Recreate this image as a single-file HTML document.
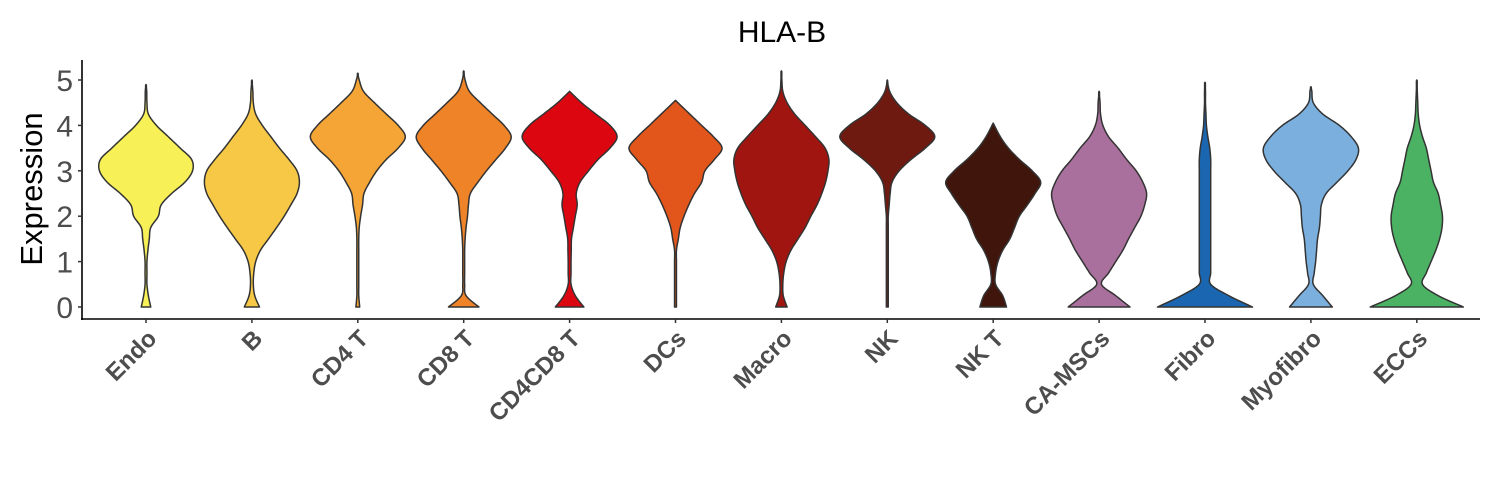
<!DOCTYPE html>
<html><head><meta charset="utf-8"><style>
body{margin:0;background:#fff}
svg{display:block;font-family:"Liberation Sans",Arial,sans-serif}
</style></head><body>
<svg id="chart" width="1500" height="500" viewBox="0 0 1500 500">
<text x="782" y="42" font-size="30" text-anchor="middle" fill="#000">HLA-B</text>
<text transform="translate(42,189) rotate(-90)" font-size="31" text-anchor="middle" fill="#000">Expression</text>
<g id="violins"></g>
<g id="yaxis"></g>
<g id="xaxis"></g>
</svg>
<script>
const categories=["Endo","B","CD4 T","CD8 T","CD4CD8 T","DCs","Macro","NK","NK T","CA-MSCs","Fibro","Myofibro","ECCs"];
const colors=["#f7f057","#f6c845","#f4a535","#ee8327","#dc0610","#e2561b","#a01510","#6e1a10","#40160c","#a9709d","#1b66b0","#7aafde","#4cb263"];
const maxValues=[4.9,5.0,5.15,5.2,4.75,4.55,5.2,5.0,4.05,4.75,4.95,4.85,5.0];
const gridStep=0.25;
const yTicks=[0,1,2,3,4,5];
// relative half-widths at y = 0, 0.25, 0.5, ...
const dens0=[0.1,0.05,0.02,0.02,0.02,0.04,0.07,0.1,0.26,0.32,0.54,0.82,0.98,0.96,0.72,0.47,0.22,0.05,0.02,0.015];
const dens1=[0.16,0.06,0.03,0.04,0.08,0.18,0.35,0.52,0.68,0.82,0.95,1.0,0.95,0.78,0.58,0.4,0.22,0.08,0.03,0.02];
const dens2=[0.04,0.02,0.02,0.02,0.02,0.02,0.02,0.03,0.06,0.1,0.13,0.25,0.4,0.6,0.85,1.0,0.85,0.6,0.35,0.12,0.03];
const dens3=[0.32,0.05,0.02,0.02,0.02,0.02,0.03,0.05,0.08,0.1,0.14,0.3,0.48,0.68,0.88,1.0,0.85,0.6,0.35,0.12,0.03];
const dens4=[0.3,0.12,0.03,0.03,0.03,0.035,0.04,0.08,0.12,0.16,0.14,0.22,0.4,0.6,0.85,1.0,0.85,0.55,0.25];
const dens5=[0.02,0.02,0.02,0.02,0.02,0.02,0.06,0.1,0.18,0.28,0.4,0.55,0.62,0.82,0.98,0.8,0.55,0.3,0.05];
const dens6=[0.12,0.04,0.03,0.05,0.1,0.2,0.35,0.5,0.62,0.75,0.85,0.93,0.98,1.0,0.92,0.72,0.5,0.28,0.12,0.03,0.01];
const dens7=[0.02,0.02,0.02,0.02,0.02,0.02,0.02,0.02,0.02,0.04,0.06,0.1,0.25,0.5,0.8,1.0,0.8,0.45,0.2,0.05];
const dens8=[0.28,0.2,0.05,0.05,0.1,0.2,0.35,0.45,0.55,0.72,0.88,1.0,0.82,0.55,0.32,0.15];
const dens9=[0.65,0.35,0.05,0.2,0.35,0.5,0.62,0.75,0.88,0.96,1.0,0.92,0.78,0.58,0.4,0.2,0.08,0.03,0.02];
const dens10=[1.0,0.5,0.12,0.12,0.12,0.12,0.12,0.12,0.12,0.12,0.12,0.12,0.12,0.12,0.1,0.06,0.03,0.02,0.01,0.01];
const dens11=[0.45,0.25,0.05,0.07,0.1,0.12,0.14,0.18,0.2,0.22,0.32,0.55,0.78,0.95,1.0,0.85,0.6,0.25,0.05,0.02];
const dens12=[0.98,0.45,0.12,0.2,0.3,0.4,0.48,0.53,0.54,0.5,0.45,0.35,0.3,0.25,0.2,0.12,0.06,0.03,0.02,0.01];
const densities=[dens0,dens1,dens2,dens3,dens4,dens5,dens6,dens7,dens8,dens9,dens10,dens11,dens12];

const NS="http://www.w3.org/2000/svg";
const x0=146, dx=105.9, halfMax=47.5;
const xScale=i=>x0+i*dx;
const yScale=v=>307-v*45.4;

const ya=document.getElementById('yaxis');
const yl=document.createElementNS(NS,'line');
yl.setAttribute('x1',82);yl.setAttribute('x2',82);yl.setAttribute('y1',60);yl.setAttribute('y2',320);
yl.setAttribute('stroke','#000');yl.setAttribute('stroke-width','1.6');


ya.appendChild(yl);
yTicks.forEach(t=>{
  const tk=document.createElementNS(NS,'line');
  tk.setAttribute('x1',78);tk.setAttribute('x2',82);tk.setAttribute('y1',yScale(t));tk.setAttribute('y2',yScale(t));
  tk.setAttribute('stroke','#333');tk.setAttribute('stroke-width','1.5');
  
  
  ya.appendChild(tk);
  const tx=document.createElementNS(NS,'text');
  tx.setAttribute('x',73);tx.setAttribute('y',yScale(t)+11);tx.setAttribute('text-anchor','end');
  tx.setAttribute('font-size','30');tx.setAttribute('fill','#4d4d4d');
  tx.textContent=t;
  
  
  ya.appendChild(tx);
});
const xa=document.getElementById('xaxis');
const xl=document.createElementNS(NS,'line');
xl.setAttribute('x1',81);xl.setAttribute('x2',1480);xl.setAttribute('y1',319);xl.setAttribute('y2',319);
xl.setAttribute('stroke','#000');xl.setAttribute('stroke-width','1.6');


xa.appendChild(xl);
categories.forEach((c,i)=>{
  const x=xScale(i);
  const tk=document.createElementNS(NS,'line');
  tk.setAttribute('x1',x);tk.setAttribute('x2',x);tk.setAttribute('y1',319);tk.setAttribute('y2',323);
  tk.setAttribute('stroke','#333');tk.setAttribute('stroke-width','1.5');
  
  
  xa.appendChild(tk);
  const tx=document.createElementNS(NS,'text');
  tx.setAttribute('transform',`translate(${x+12},${340}) rotate(-45)`);
  tx.setAttribute('text-anchor','end');tx.setAttribute('font-size','24');tx.setAttribute('font-weight','bold');
  tx.setAttribute('fill','#4d4d4d');
  tx.textContent=c;
  
  
  xa.appendChild(tx);
});
function crSample(pts,n){
  const out=[];
  for(let i=0;i<pts.length-1;i++){
    const p0=pts[Math.max(0,i-1)],p1=pts[i],p2=pts[i+1],p3=pts[Math.min(pts.length-1,i+2)];
    for(let k=0;k<n;k++){
      const t=k/n,t2=t*t,t3=t2*t;
      const f=(a,b,c,d)=>0.5*((2*b)+(-a+c)*t+(2*a-5*b+4*c-d)*t2+(-a+3*b-3*c+d)*t3);
      out.push([f(p0[0],p1[0],p2[0],p3[0]),f(p0[1],p1[1],p2[1],p3[1])]);
    }
  }
  out.push(pts[pts.length-1]);
  return out;
}
const vg=document.getElementById('violins');
categories.forEach((c,i)=>{
  const d=densities[i], mx=maxValues[i], cx=xScale(i);
  const pts=[];
  d.forEach((w,j)=>{const v=j*gridStep; if(v<mx) pts.push([v,w]);});
  pts.push([mx,0]);
  const s=crSample(pts,8).map(p=>[p[0],Math.max(0.008,p[1])]);
  s[s.length-1][1]=0;
  let path='M'+(cx-s[0][1]*halfMax)+','+yScale(s[0][0]);
  s.forEach(p=>{path+=' L'+(cx-p[1]*halfMax).toFixed(2)+','+yScale(p[0]).toFixed(2);});
  for(let k=s.length-1;k>=0;k--){const p=s[k];path+=' L'+(cx+p[1]*halfMax).toFixed(2)+','+yScale(p[0]).toFixed(2);}
  path+=' Z';
  const el=document.createElementNS(NS,'path');
  el.setAttribute('d',path);el.setAttribute('fill',colors[i]);
  el.setAttribute('stroke','#333');el.setAttribute('stroke-width','1.5');el.setAttribute('stroke-linejoin','round');
  
  
  vg.appendChild(el);
});
</script>
</body></html>
